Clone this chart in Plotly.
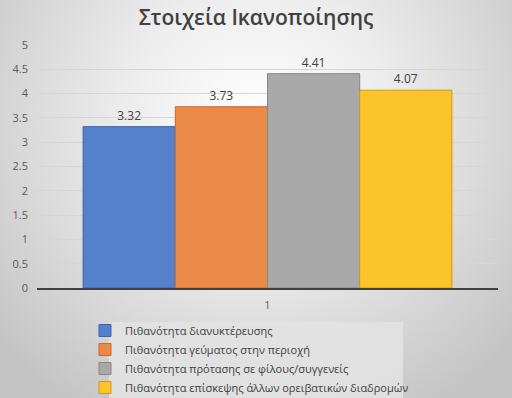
import base64
import plotly.graph_objects as go

title = "Στοιχεία Ικανοποίησης"
category = ["1"]
series_names = [
    "Πιθανότητα διανυκτέρευσης",
    "Πιθανότητα γεύματος στην περιοχή",
    "Πιθανότητα πρότασης σε φίλους/συγγενείς",
    "Πιθανότητα επίσκεψης άλλων ορειβατικών διαδρομών",
]
series_values = [3.32, 3.73, 4.41, 4.07]
fill_colors = ["#5581cc", "#eb8a48", "#a9a9a9", "#fbc42a"]
line_colors = ["#3c64a8", "#c8692a", "#868686", "#c99a12"]

W, H = 512, 398
ml, mr, mt, mb = 37, 14, 45, 110
pw, ph = W - ml - mr, H - mt - mb

svg = f'''<svg xmlns="http://www.w3.org/2000/svg" width="{W}" height="{H}" viewBox="0 0 {W} {H}" preserveAspectRatio="none">
<defs><radialGradient id="g" cx="256" cy="120" r="340" gradientUnits="userSpaceOnUse">
<stop offset="0" stop-color="#ffffff"/><stop offset="0.4" stop-color="#ececec"/><stop offset="1" stop-color="#c4c4c4"/>
</radialGradient></defs><rect width="{W}" height="{H}" fill="url(#g)"/></svg>'''
svg_uri = "data:image/svg+xml;base64," + base64.b64encode(svg.encode()).decode()

fig = go.Figure()
for name, val, fc, lc in zip(series_names, series_values, fill_colors, line_colors):
    fig.add_trace(go.Bar(
        x=category, y=[val], name=name,
        marker=dict(color=fc, line=dict(color=lc, width=1)),
        text=[f"{val:.2f}"], textposition="outside",
        textfont=dict(size=12, color="#404040", family="Open Sans"),
        cliponaxis=False,
    ))


def cx(x):
    return x / W


def cy(y):
    return 1 - y / H


fig.update_layout(
    width=W, height=H,
    margin=dict(l=ml, r=mr, t=mt, b=mb, autoexpand=False),
    paper_bgcolor="rgba(0,0,0,0)", plot_bgcolor="rgba(0,0,0,0)",
    barmode="group", bargap=0.2, bargroupgap=0,
    title=dict(text=title, x=0.5, xanchor="center", xref="container",
               y=cy(18), yanchor="middle",
               font=dict(family="Open Sans", size=21, color="#404040", weight=600)),
    font=dict(family="Open Sans", color="#595959"),
    showlegend=True,
    legend=dict(xref="container", yref="container", x=cx(85), xanchor="left",
                y=cy(316), yanchor="top",
                bgcolor="rgba(0,0,0,0)", font=dict(size=11, color="#404040"),
                tracegroupgap=0, itemwidth=30),
    images=[dict(source=svg_uri, xref="paper", yref="paper",
                 x=-ml / pw, y=1 + mt / ph,
                 sizex=W / pw, sizey=H / ph, xanchor="left", yanchor="top",
                 sizing="stretch", layer="below")],
    shapes=[dict(type="rect", xref="paper", yref="paper",
                 x0=(109 - ml) / pw, x1=(403 - ml) / pw,
                 y0=(H - mb - 322) / ph, y1=(H - mb - 398) / ph,
                 fillcolor="rgba(226,226,226,0.9)",
                 line=dict(width=0), layer="below")],
)
fig.update_yaxes(range=[0, 5], dtick=0.5, showgrid=True, gridcolor="#d6d6d6", gridwidth=1,
                 zeroline=False, showline=False, tickfont=dict(size=11, color="#595959"),
                 ticks="", ticklabelstandoff=8, automargin=False)
fig.update_xaxes(showline=True, linecolor="#404040", linewidth=1.5, ticks="",
                 tickfont=dict(size=11, color="#595959"), ticklabelstandoff=6,
                 automargin=False)

fig.write_html("out.html", config={"displayModeBar": False, "staticPlot": True},
               post_script="document.body.style.margin='0';document.body.style.overflow='hidden';")
